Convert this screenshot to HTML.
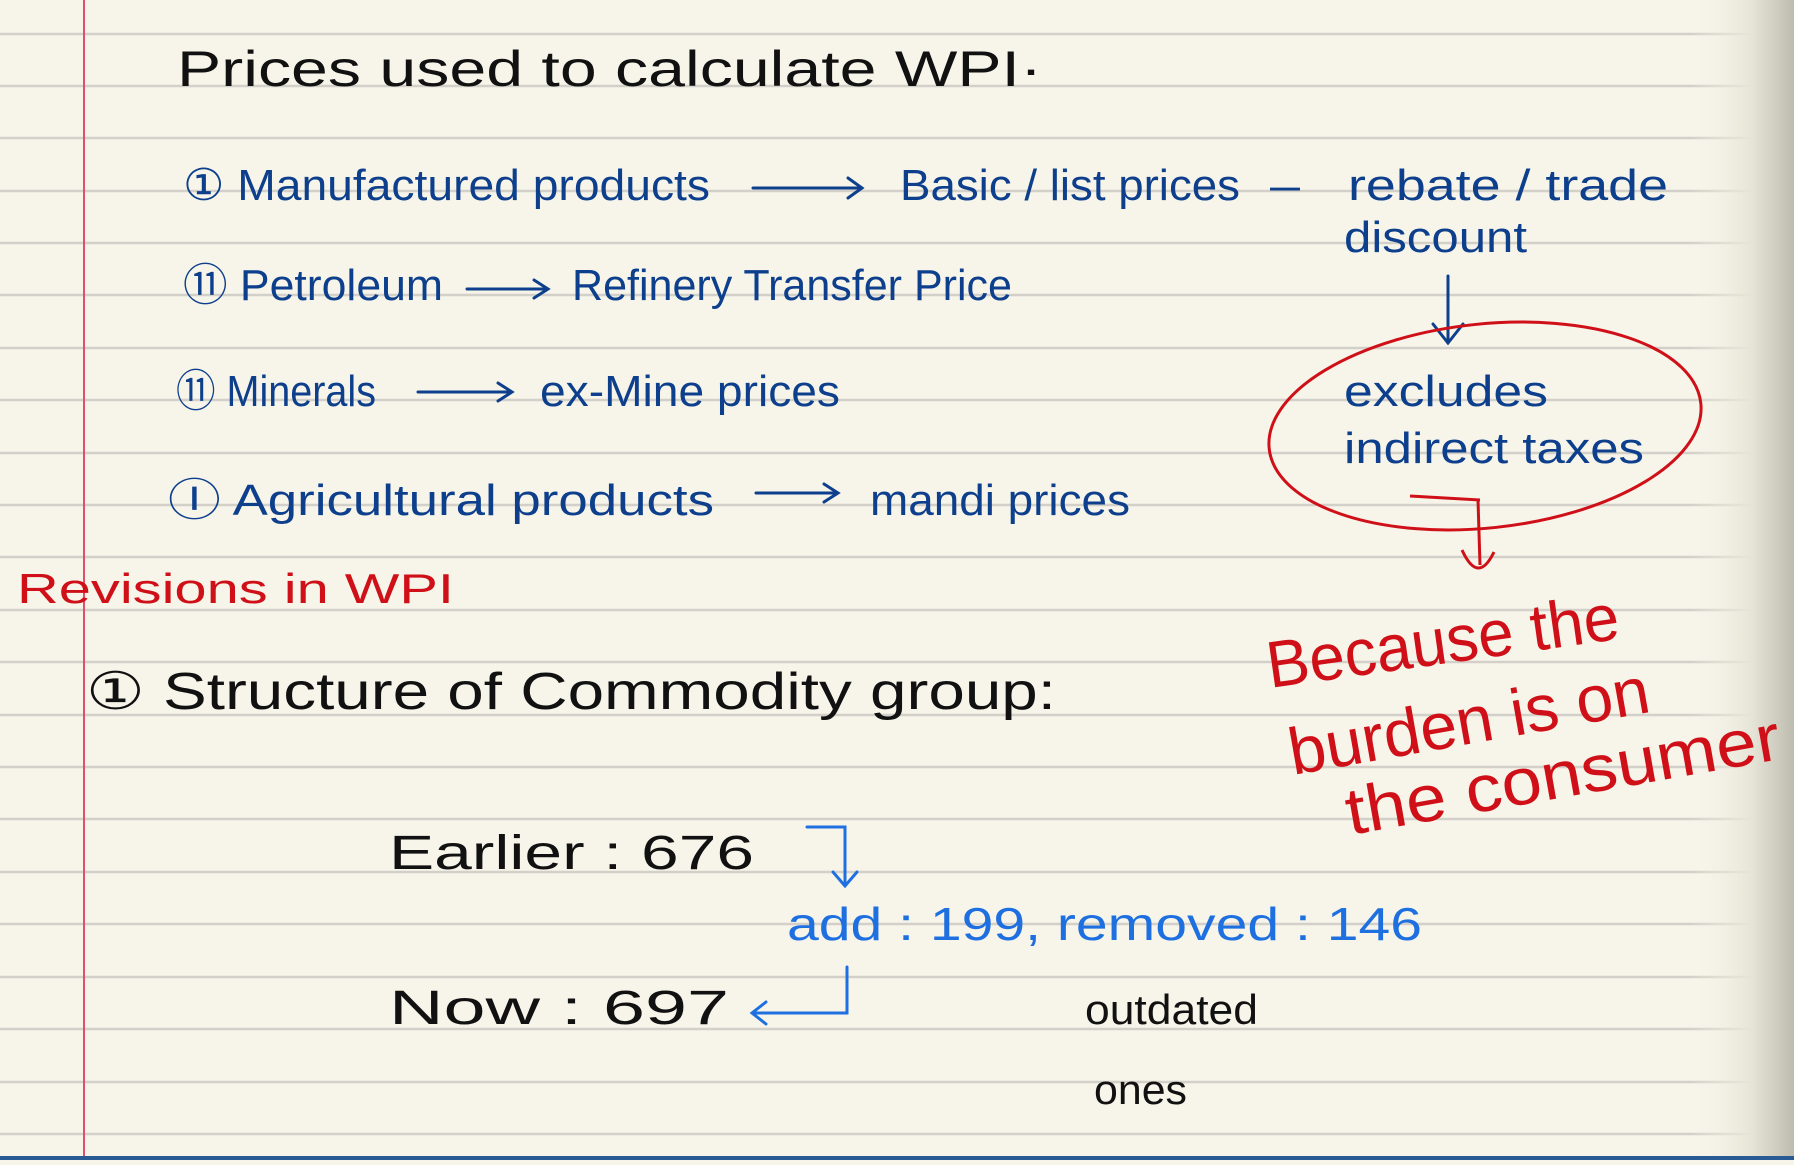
<!DOCTYPE html>
<html><head><meta charset="utf-8"><style>
html,body{margin:0;padding:0;}
body{width:1794px;height:1160px;overflow:hidden;background:#f7f5ea;}
svg text{font-family:"Liberation Sans",sans-serif;}
</style></head><body>
<svg width="1794" height="1160" viewBox="0 0 1794 1160" xmlns="http://www.w3.org/2000/svg">
<defs>
<linearGradient id="sh" x1="0" x2="1" y1="0" y2="0">
<stop offset="0" stop-color="#f7f5ea" stop-opacity="0"/>
<stop offset="0.6" stop-color="#e6e4d6"/>
<stop offset="1" stop-color="#bdbcae"/>
</linearGradient>
</defs>
<rect width="1794" height="1160" fill="#f7f5ea"/>
<g stroke="#d2d0c8" stroke-width="2.5">
<line x1="0" x2="1794" y1="34" y2="34"/><line x1="0" x2="1794" y1="86" y2="86"/>
<line x1="0" x2="1794" y1="138" y2="138"/><line x1="0" x2="1794" y1="191" y2="191"/>
<line x1="0" x2="1794" y1="243" y2="243"/><line x1="0" x2="1794" y1="295" y2="295"/>
<line x1="0" x2="1794" y1="348" y2="348"/><line x1="0" x2="1794" y1="400" y2="400"/>
<line x1="0" x2="1794" y1="453" y2="453"/><line x1="0" x2="1794" y1="505" y2="505"/>
<line x1="0" x2="1794" y1="557" y2="557"/><line x1="0" x2="1794" y1="610" y2="610"/>
<line x1="0" x2="1794" y1="662" y2="662"/><line x1="0" x2="1794" y1="715" y2="715"/>
<line x1="0" x2="1794" y1="767" y2="767"/><line x1="0" x2="1794" y1="819" y2="819"/>
<line x1="0" x2="1794" y1="872" y2="872"/><line x1="0" x2="1794" y1="924" y2="924"/>
<line x1="0" x2="1794" y1="977" y2="977"/><line x1="0" x2="1794" y1="1029" y2="1029"/>
<line x1="0" x2="1794" y1="1082" y2="1082"/><line x1="0" x2="1794" y1="1134" y2="1134"/>
</g>
<rect x="1690" y="0" width="104" height="1160" fill="url(#sh)"/>
<line x1="84" y1="0" x2="84" y2="1160" stroke="#e0506a" stroke-width="2"/>
<rect x="0" y="1156" width="1794" height="4" fill="#2a5a93"/>

<text x="177" y="86" font-size="50" fill="#111" textLength="865" lengthAdjust="spacingAndGlyphs">Prices used to calculate WPI·</text>

<g fill="#0d3f8c" font-size="44">
<text x="183" y="200" textLength="527" lengthAdjust="spacingAndGlyphs">① Manufactured products</text>
<text x="900" y="200" textLength="340" lengthAdjust="spacingAndGlyphs">Basic / list prices</text>
<text x="1270" y="200" textLength="30" lengthAdjust="spacingAndGlyphs">–</text>
<text x="1348" y="200" textLength="320" lengthAdjust="spacingAndGlyphs">rebate / trade</text>
<text x="1344" y="252" textLength="183" lengthAdjust="spacingAndGlyphs">discount</text>
<text x="183" y="300" textLength="260" lengthAdjust="spacingAndGlyphs">⑪ Petroleum</text>
<text x="572" y="300" textLength="440" lengthAdjust="spacingAndGlyphs">Refinery Transfer Price</text>
<text x="176" y="406" textLength="200" lengthAdjust="spacingAndGlyphs">⑪ Minerals</text>
<text x="540" y="406" textLength="300" lengthAdjust="spacingAndGlyphs">ex-Mine prices</text>
<text x="168" y="515" textLength="546" lengthAdjust="spacingAndGlyphs">Ⓘ Agricultural products</text>
<text x="870" y="515" textLength="260" lengthAdjust="spacingAndGlyphs">mandi prices</text>
<text x="1344" y="406" textLength="204" lengthAdjust="spacingAndGlyphs">excludes</text>
<text x="1344" y="463" textLength="300" lengthAdjust="spacingAndGlyphs">indirect taxes</text>
</g>
<g stroke="#0d3f8c" stroke-width="3" fill="none" stroke-linecap="round">
<path d="M753 188 H862 M848 178 L862 188 L848 198"/>
<path d="M467 289 H548 M534 280 L548 289 L534 298"/>
<path d="M418 392 H512 M498 383 L512 392 L498 401"/>
<path d="M756 493 H838 M824 484 L838 493 L824 502"/>
<path d="M1448 276 V343 M1433 324 L1448 343 L1463 324"/>
</g>

<ellipse cx="1485" cy="426" rx="217" ry="102" fill="none" stroke="#d01018" stroke-width="3" transform="rotate(-6 1485 426)"/>
<path d="M1410 496 L1480 500 M1478 500 L1480 565 M1462 550 Q1478 585 1494 552" stroke="#d01018" stroke-width="3" fill="none"/>

<text x="17" y="603" font-size="42" fill="#d01018" textLength="437" lengthAdjust="spacingAndGlyphs">Revisions in WPI</text>

<g fill="#d01018" font-size="66">
<text x="1270" y="688" textLength="355" lengthAdjust="spacingAndGlyphs" transform="rotate(-8 1270 688)">Because the</text>
<text x="1293" y="775" textLength="365" lengthAdjust="spacingAndGlyphs" transform="rotate(-10 1293 775)">burden is on</text>
<text x="1350" y="835" textLength="440" lengthAdjust="spacingAndGlyphs" transform="rotate(-10 1350 835)">the consumer</text>
</g>

<g fill="#111">
<text x="86" y="709" font-size="52" textLength="970" lengthAdjust="spacingAndGlyphs">① Structure of Commodity group:</text>
<text x="389" y="869" font-size="48" textLength="365" lengthAdjust="spacingAndGlyphs">Earlier : 676</text>
<text x="389" y="1024" font-size="48" textLength="340" lengthAdjust="spacingAndGlyphs">Now : 697</text>
<text x="1085" y="1024" font-size="42" textLength="173" lengthAdjust="spacingAndGlyphs">outdated</text>
<text x="1094" y="1104" font-size="42" textLength="93" lengthAdjust="spacingAndGlyphs">ones</text>
</g>

<text x="787" y="940" font-size="46" fill="#1e6fe0" textLength="635" lengthAdjust="spacingAndGlyphs">add : 199,  removed : 146</text>
<g stroke="#1e6fe0" stroke-width="3" fill="none" stroke-linecap="round">
<path d="M807 827 H845 V885 M833 872 L845 886 L857 872"/>
<path d="M847 967 V1013 H752 M766 1002 L752 1013 L766 1024"/>
</g>
</svg>
</body></html>
